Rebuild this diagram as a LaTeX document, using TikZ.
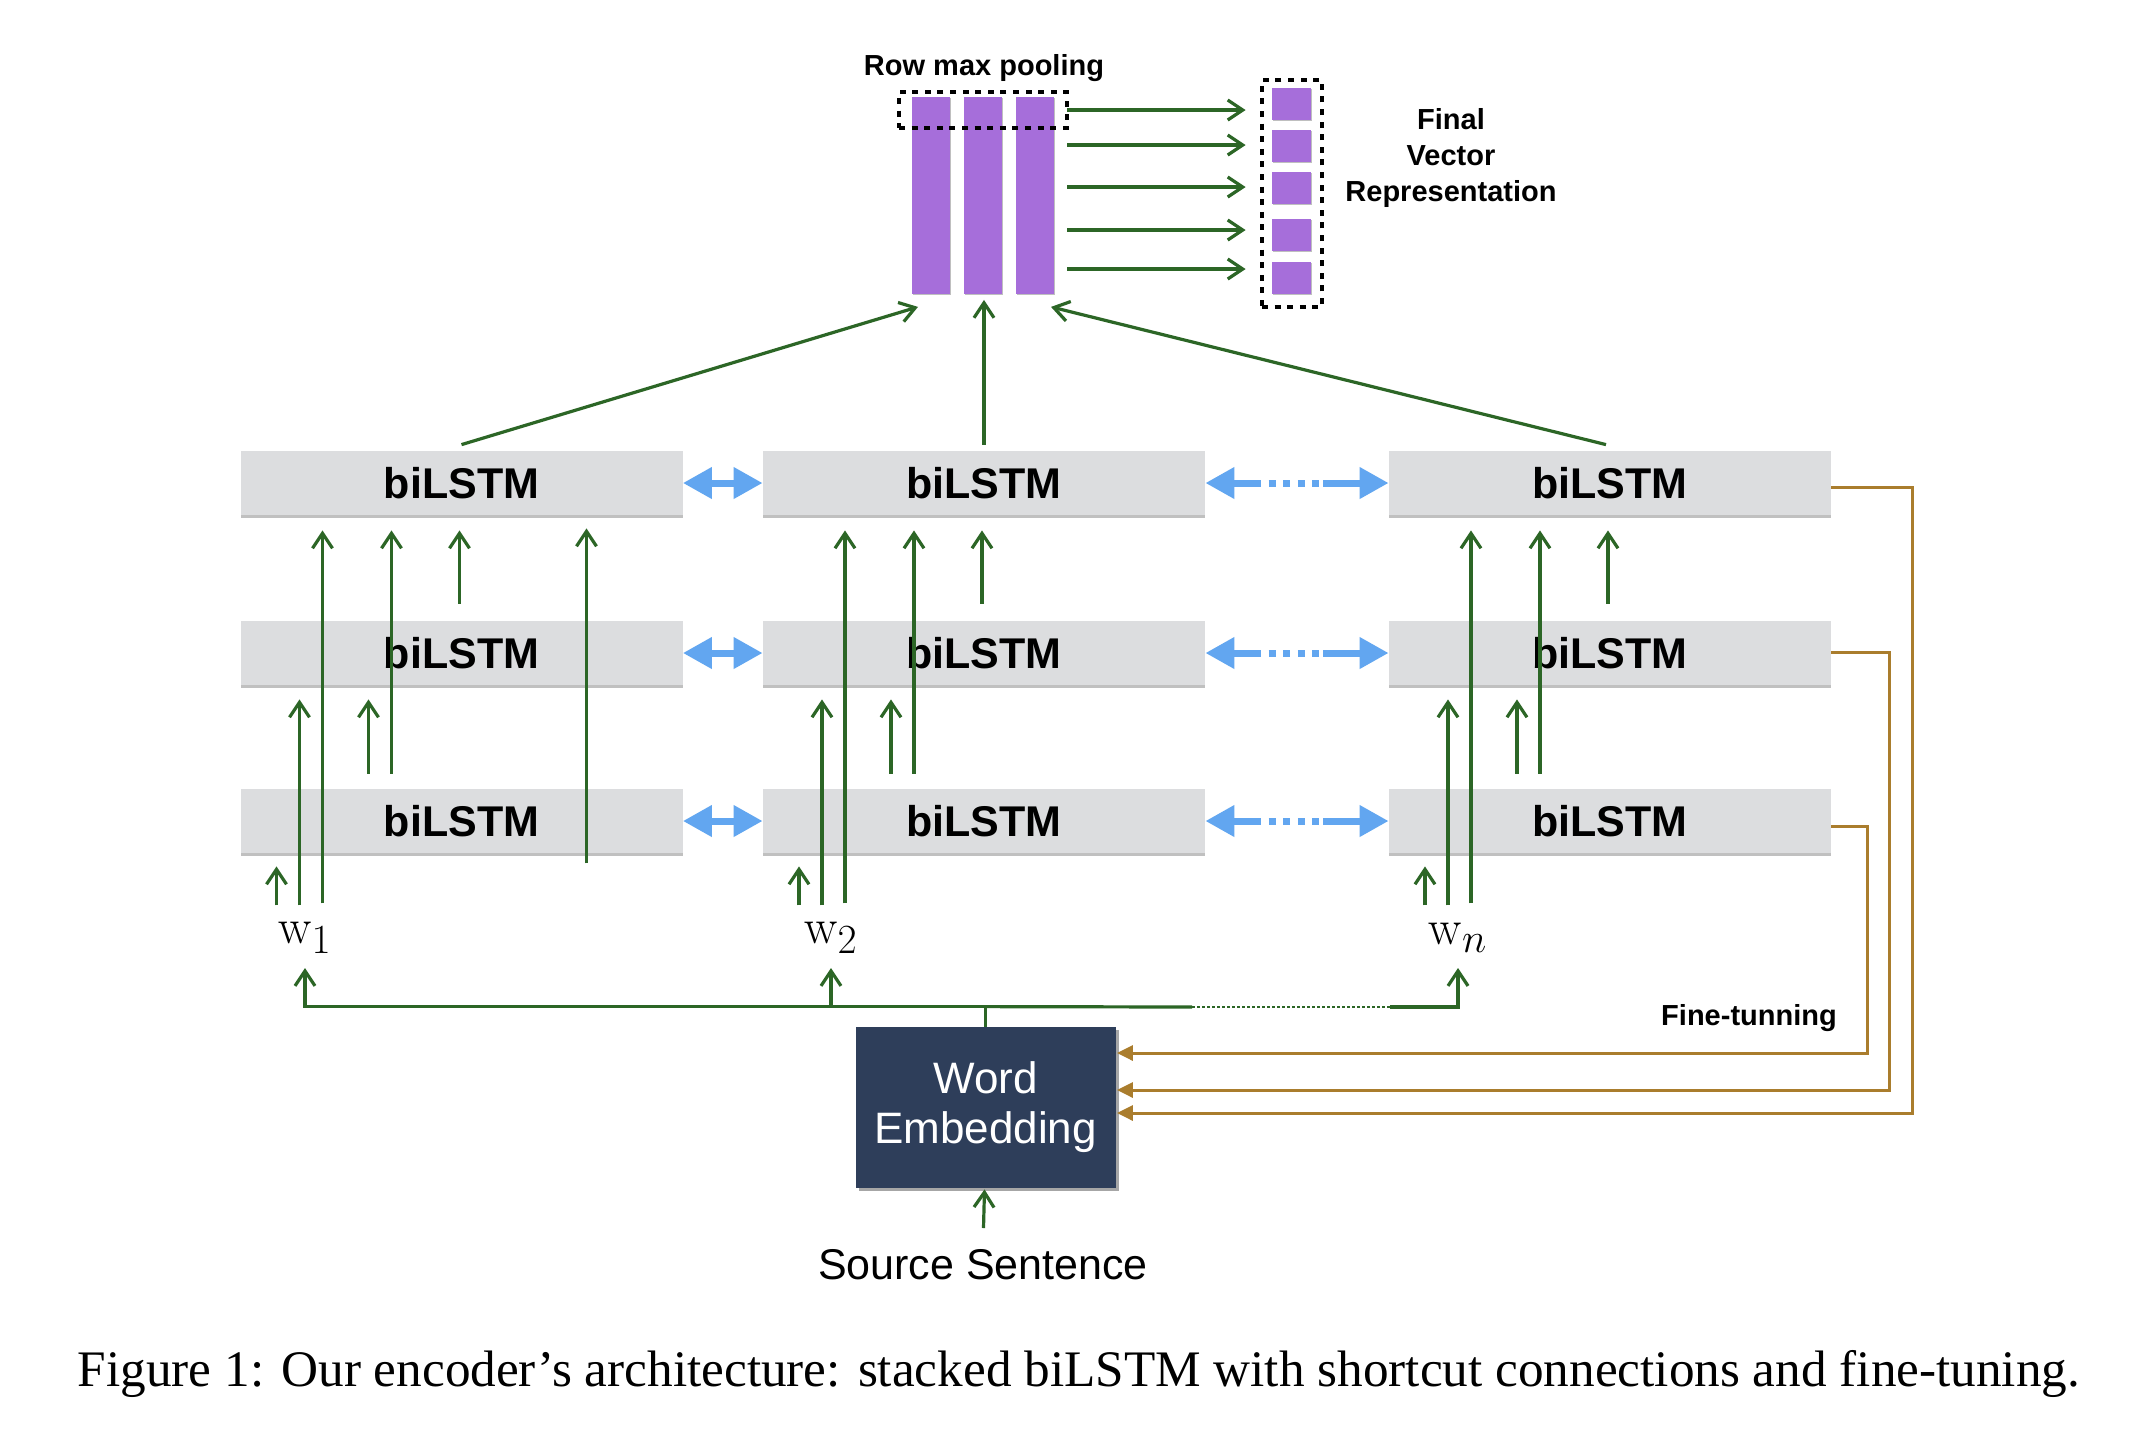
\documentclass[tikz,border=0pt]{standalone}
\usepackage[no-math]{fontspec}
\usepackage{graphicx}
\setmainfont{Liberation Serif}
\setsansfont{Liberation Sans}
\usetikzlibrary{arrows.meta,shadows,calc}
\definecolor{grn}{RGB}{44,102,38}
\definecolor{org}{RGB}{170,125,45}
\definecolor{blu}{RGB}{98,166,240}
\definecolor{prp}{RGB}{166,110,218}
\definecolor{boxgray}{RGB}{220,221,223}
\definecolor{navy}{RGB}{46,62,90}
\begin{document}
\begin{tikzpicture}[x=0.5pt,y=-0.5pt,
  lstm/.style={rectangle, fill=boxgray, minimum width=221pt, minimum height=32pt, inner sep=0pt,
    font=\sffamily\bfseries\fontsize{21.5}{24}\selectfont,
    drop shadow={shadow xshift=0pt,shadow yshift=-1.4pt,opacity=0.35,fill=black!70}},
  garrow/.style={draw=grn, line width=1.6pt, -{Straight Barb[length=7.5pt,width=10pt]}},
  gline/.style={draw=grn, line width=1.6pt},
  oarrow/.style={draw=org, line width=1.5pt, -{Triangle[length=8pt,width=7.5pt]}},
  barrow/.style={draw=blu, line width=3.5pt, {Triangle[length=14.5pt,width=15pt]}-{Triangle[length=14.5pt,width=15pt]}},
  bdots/.style={dash pattern=on 14pt off 4pt on 3.5pt off 3.8pt on 3.5pt off 3.8pt on 3.5pt off 3.8pt on 3.5pt off 2pt on 40pt},
  bar/.style={rectangle, fill=prp, minimum width=19pt, minimum height=98.5pt, inner sep=0pt,
    drop shadow={shadow xshift=0.6pt,shadow yshift=-0.8pt,opacity=0.25,fill=black}},
  sq/.style={rectangle, fill=prp, minimum width=19.5pt, minimum height=16pt, inner sep=0pt,
    drop shadow={shadow xshift=0.5pt,shadow yshift=-0.6pt,opacity=0.25,fill=black}},
  dotbox/.style={rectangle, draw=black, line width=2pt, dash pattern=on 3pt off 3.3pt, inner sep=0pt},
  lbl/.style={font=\sffamily\bfseries\fontsize{14.5}{18}\selectfont, align=center},
  wlbl/.style={font=\fontsize{32}{36}\selectfont, inner sep=0pt}
]
\fill[white] (0,0) rectangle (2142,1432);
\useasboundingbox (0,0) rectangle (2142,1432);

% biLSTM grid
\foreach \r/\yy in {1/483,2/653,3/821}{
  \foreach \c/\xx in {1/461.5,2/984,3/1610}{
    \node[lstm] (L\r\c) at (\xx,\yy) {biLSTM};
  }
}

% blue bidirectional arrows
\foreach \r in {1,2,3}{
  \draw[barrow] (L\r1.east) -- (L\r2.west);
  \draw[barrow, bdots] (L\r2.east) -- (L\r3.west);
}

% word labels
\node[wlbl] (w1) at (305,938) {$\mathrm{w}_1$};
\node[wlbl] (w2) at (831,938) {$\mathrm{w}_2$};
\node[wlbl] (wn) at (1458,938) {$\mathrm{w}_n$};

% vertical shortcut arrows
\foreach \c in {1,2,3}{
  \draw[garrow] ($(L3\c.south)+(-185,52)$) -- ($(L3\c.south)+(-185,13)$);
  \draw[garrow] ($(L3\c.south)+(-162,52)$) -- ($(L2\c.south)+(-162,14)$);
  \draw[garrow] ($(L3\c.south)+(-139,50)$) -- ($(L1\c.south)+(-139,15)$);
  \draw[garrow] ($(L3\c.north)+(-93,-15)$) -- ($(L2\c.south)+(-93,14)$);
  \draw[garrow] ($(L3\c.north)+(-70,-15)$) -- ($(L1\c.south)+(-70,15)$);
  \draw[garrow] ($(L2\c.north)+(-2,-17)$) -- ($(L1\c.south)+(-2,15)$);
}
\draw[garrow] ($(L31.south)+(125,10)$) -- ($(L11.south)+(125,13)$);

% pooling bars
\node[bar] (bar1) at (931,195) {};
\node[bar] (bar2) at (983,195) {};
\node[bar] (bar3) at (1035,195) {};
\node[dotbox, minimum width=84pt, minimum height=18pt] (pool) at (983,110) {};
\node[lbl, anchor=base] (rmp) at (984,75) {Row max pooling};

% final vector
\foreach \i/\yy in {1/103.5,2/145.5,3/187.5,4/234.5,5/277.5}
  \node[sq] (sq\i) at (1291.5,\yy) {};
\node[dotbox, minimum width=30pt, minimum height=113.5pt] (fv) at (1292,193.5) {};
\node[lbl] (fvr) at (1451,158) {Final\\Vector\\Representation};

\foreach \yy in {110,145,187,230,269}
  \draw[garrow] ($(bar3.east |- 0,\yy)+(13,0)$) -- ($(sq1.west |- 0,\yy)+(-26,0)$);

% top connectors to pooling
\draw[garrow] ($(L11.north)+(0,-6)$) -- ($(bar1.south)+(-13,13)$);
\draw[garrow] ($(L12.north)+(0,-6)$) -- ($(bar2.south)+(1,6)$);
\draw[garrow] ($(L13.north)+(-4,-6)$) -- ($(bar3.south)+(16,13)$);

% word embedding
\node[rectangle, fill=navy, minimum width=130pt, minimum height=80.5pt, inner sep=0pt,
  text=white, align=center, font=\sffamily\fontsize{22}{25}\selectfont,
  drop shadow={shadow xshift=1.6pt,shadow yshift=-1.6pt,opacity=0.35,fill=black}] (WE) at (985.5,1107.5) {Word\\Embedding};
\node[font=\sffamily\fontsize{21.5}{24}\selectfont] (src) at (983,1265) {Source Sentence};
\draw[garrow] ($(src.center)+(0.5,-37)$) -- ($(WE.south)+(-1,1)$);

% bus to words
\coordinate (bus) at ($(WE.north)+(0,-20)$);
\coordinate (d1) at (1192,1007);
\coordinate (d2) at (1390,1007);
\draw[gline] (WE.north) -- (bus);
\draw[garrow] (bus) -| ($(w1.center)+(0,30)$);
\draw[garrow] (bus -| w2) -- ($(w2.center)+(0,30)$);
\draw[gline] (bus) -- (d1);
\draw[draw=grn, line width=1.1pt, dash pattern=on 1.4pt off 1.1pt] (d1) -- (d2);
\draw[garrow] (d2) -| ($(wn.center)+(0,30)$);

% fine-tuning connectors
\draw[oarrow] ($(L33.east)+(0,5)$) -- ($(L33.east)+(36,5)$) |- ($(WE.east)+(1,-54.5)$);
\draw[oarrow] ($(L23.east)+(0,-1)$) -- ($(L23.east)+(58,-1)$) |- ($(WE.east)+(1,-17.5)$);
\draw[oarrow] ($(L13.east)+(0,4)$) -- ($(L13.east)+(81,4)$) |- ($(WE.east)+(1,5.5)$);
\node[lbl] (ft) at (1749,1018) {Fine-tunning};

% caption
\node (cap) at (1079,1374) {\resizebox{1001pt}{!}{Figure 1: Our encoder’s architecture: stacked biLSTM with shortcut connections and fine-tuning.}};
\end{tikzpicture}
\end{document}
